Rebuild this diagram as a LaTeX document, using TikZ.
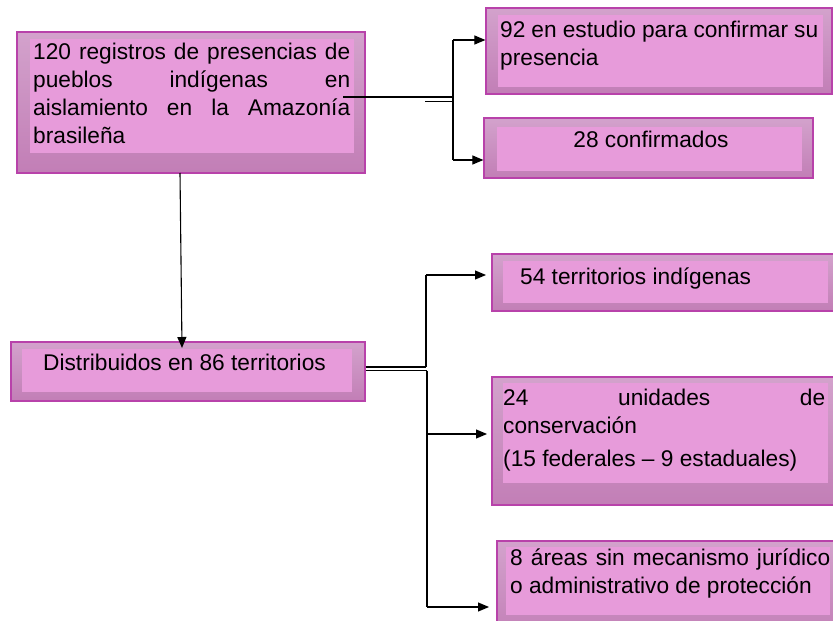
\documentclass[tikz,border=0pt]{standalone}
\usepackage{fontspec}
\setmainfont{Liberation Sans}
\usetikzlibrary{arrows.meta,fit}
\definecolor{obord}{HTML}{B842AA}
\definecolor{otop}{HTML}{D3A2CC}
\definecolor{obot}{HTML}{C27EB6}
\definecolor{innerc}{HTML}{E79BDA}
\tikzset{
  outerbox/.style={rectangle, draw=obord, line width=1.2pt, top color=otop, bottom color=obot, inner sep=0pt},
  innerbox/.style={rectangle, fill=innerc, draw=none, inner sep=0pt},
  txt/.style={inner sep=0pt, anchor=base west, font=\fontsize{22.7}{28.2}\selectfont},
  conn/.style={line width=1.1pt, draw=black},
  arr/.style={conn, -{Triangle[length=11pt,width=9pt]}},
}
\begin{document}
\begin{tikzpicture}[x=1pt,y=-1pt]
\useasboundingbox (0,0) rectangle (833,621);

% boxes
\node[outerbox, fit={(17,32)(365,173)}] (b1) {};
\node[innerbox, fit={(30,39)(354,153)}] (b1i) {};
\node[outerbox, fit={(486,8)(832,94)}] (b92) {};
\node[innerbox, fit={(498,15)(823,87)}] (b92i) {};
\node[outerbox, fit={(484,118)(813,178)}] (b28) {};
\node[innerbox, fit={(497,127)(802,171)}] (b28i) {};
\node[outerbox, fit={(11,342)(365,401)}] (bd) {};
\node[innerbox, fit={(22,349)(352,392)}] (bdi) {};
\node[outerbox, fit={(492,254)(845,311)}] (b54) {};
\node[innerbox, fit={(503,261)(828,303)}] (b54i) {};
\node[outerbox, fit={(492,377)(845,505)}] (b24) {};
\node[innerbox, fit={(503,383)(828,483)}] (b24i) {};
\node[outerbox, fit={(497,541)(845,640)}] (b8) {};
\node[innerbox, fit={(506,547)(830,615)}] (b8i) {};

% texts
\node[txt] (t1) at (33,59.3) {\parbox[t]{317pt}{%
  \makebox[\linewidth][s]{120 registros de presencias de}\\
  \makebox[\linewidth][s]{pueblos indígenas en}\\
  \makebox[\linewidth][s]{aislamiento en la Amazonía}\\
  brasileña}};
\node[txt] (t92) at (500,37) {\parbox[t]{318pt}{%
  \makebox[\linewidth][s]{92 en estudio para confirmar su}\\
  presencia}};
\node[txt, anchor=base] (t28) at (651,147) {28 confirmados};
\node[txt] (tdist) at (43,370) {Distribuidos en 86 territorios};
\node[txt] (t54) at (520,284) {54 territorios indígenas};
\node[txt] (t24) at (503,405) {\parbox[t]{322pt}{%
  \makebox[\linewidth][s]{24 unidades de}\\
  conservación\\[5.3pt]
  (15 federales – 9 estaduales)}};
\node[txt] (t8) at (510,565) {\parbox[t]{320pt}{%
  \makebox[\linewidth][s]{8 áreas sin mecanismo jurídico}\\
  o administrativo de protección}};

% connectors: first group
\coordinate (c1a) at (343,97);
\coordinate (c1b) at (453,97);
\coordinate (c1c) at (425,101.5);
\coordinate (c1d) at (453,101.5);
\coordinate (c1top) at (453,40);
\coordinate (c1bot) at (453,160);
\draw[conn] (c1a) -- (c1b);
\draw[conn] (c1c) -- (c1d);
\draw[conn] (c1top) -- (c1bot);
\draw[arr] (c1top) -- (c1top -| b92.west);
\draw[arr] (c1bot) -- (c1bot -| b28.west);

% vertical arrow
\coordinate (v1) at (180,173);
\coordinate (v2) at (182,348);
\draw[arr] (v1) -- (v2);

% connectors: second group
\coordinate (d1) at (426,367);
\coordinate (d2) at (427,370.5);
\coordinate (dtop) at (426,275);
\coordinate (dmid) at (427,434);
\coordinate (dbot) at (427,607);
\draw[conn] (bd.east |- d1) -- (d1);
\draw[conn] (bd.east |- d2) -- (d2);
\draw[conn] (dtop) -- (d1);
\draw[conn] (d2) -- (dbot);
\draw[arr] (dtop) -- (486,275);
\draw[arr] (dmid) -- (487,434);
\draw[arr] (dbot) -- (489,607);
\end{tikzpicture}
\end{document}
